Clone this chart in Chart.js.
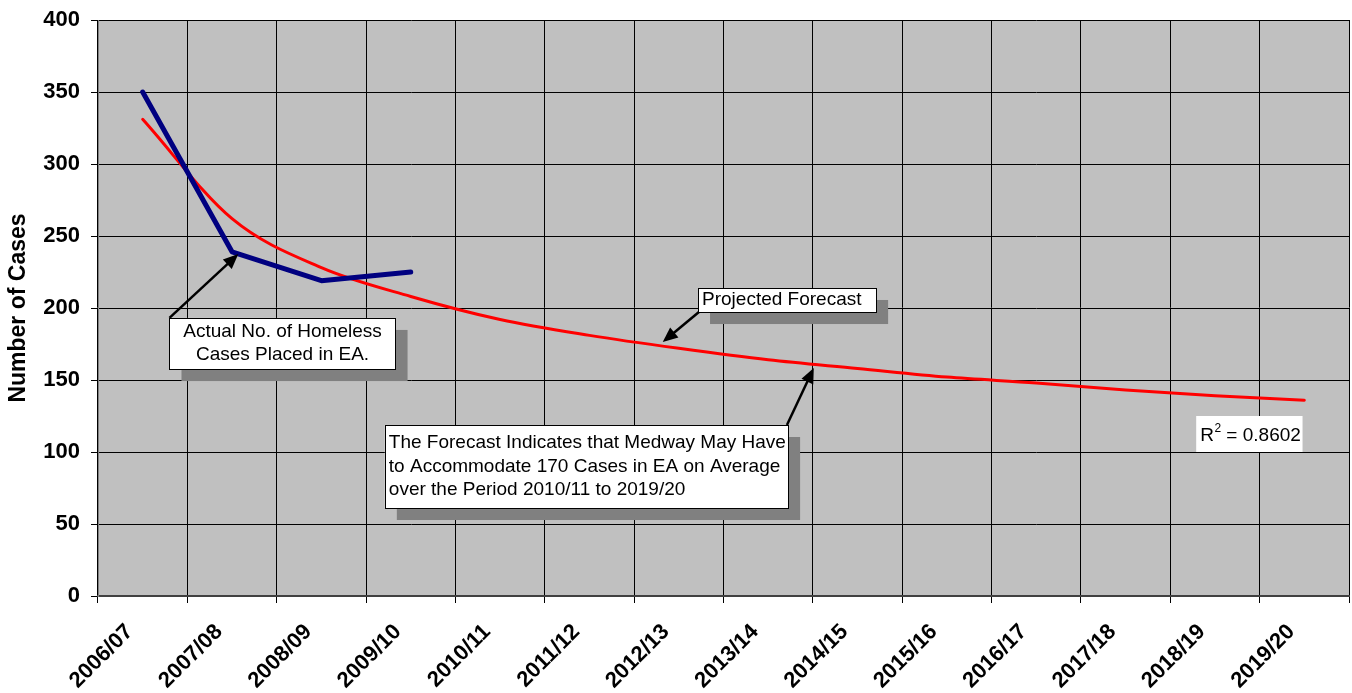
<!DOCTYPE html>
<html>
<head>
<meta charset="utf-8">
<title>Homeless Cases Placed in EA</title>
<script src="https://cdn.jsdelivr.net/npm/chart.js@4/dist/chart.umd.min.js"></script>
<style>
  html, body { margin: 0; padding: 0; background: #ffffff; }
  #wrap { width: 1352px; height: 693px; }
</style>
</head>
<body>
<div id="wrap"><canvas id="chart" width="1352" height="693"></canvas></div>
<script>
// Financial years on the category axis
const seasons = ['2006/07', '2007/08', '2008/09', '2009/10', '2010/11', '2011/12', '2012/13',
                 '2013/14', '2014/15', '2015/16', '2016/17', '2017/18', '2018/19', '2019/20'];

// Actual number of homeless cases placed in EA (recorded years only)
const actualCases = [350, 239, 219, 225, null, null, null, null, null, null, null, null, null, null];

// Fitted trend / projected forecast
const forecastTrend = [331, 262, 228, 208, 192, 181, 172, 164, 158, 152, 148, 143, 139, 136];

// Value axis
const yMin = 0;
const yMax = 400;
const yStep = 50;

const rSquared = '0.8602';

const FONT = '"Liberation Sans", Arial, Helvetica, sans-serif';

// Callouts, anchored in axis units (x = category index, y = cases)
const callouts = [
  {
    box: { x0: 0.30, x1: 2.83, y0: 193.1, y1: 157.6 },
    lines: ['Actual No. of Homeless', 'Cases Placed in EA.'],
    align: 'center',
    arrow: { from: { x: 0.30, y: 193.1 }, to: { x: 1.07, y: 237.5 } }
  },
  {
    box: { x0: 6.215, x1: 8.208, y0: 213.9, y1: 197.2 },
    lines: ['Projected Forecast'],
    align: 'left',
    arrow: { from: { x: 6.225, y: 197.2 }, to: { x: 5.82, y: 176.4 } }
  },
  {
    box: { x0: 2.71, x1: 7.223, y0: 118.75, y1: 61.1 },
    lines: ['The Forecast Indicates that Medway May Have',
            'to Accommodate 170 Cases in EA on Average',
            'over the Period 2010/11 to 2019/20'],
    align: 'left',
    arrow: { from: { x: 7.21, y: 118.75 }, to: { x: 7.51, y: 158.3 } }
  }
];

const rSquaredBox = { x0: 11.79, x1: 12.98, y0: 125, y1: 100 };

function drawArrow(ctx, x1, y1, x2, y2) {
  const ang = Math.atan2(y2 - y1, x2 - x1);
  const len = 15, half = 6.5;
  ctx.save();
  ctx.strokeStyle = '#000';
  ctx.fillStyle = '#000';
  ctx.lineWidth = 2.5;
  ctx.beginPath();
  ctx.moveTo(x1, y1);
  ctx.lineTo(x2 - Math.cos(ang) * (len - 2), y2 - Math.sin(ang) * (len - 2));
  ctx.stroke();
  ctx.beginPath();
  ctx.moveTo(x2, y2);
  ctx.lineTo(x2 - Math.cos(ang) * len - Math.sin(ang) * half, y2 - Math.sin(ang) * len + Math.cos(ang) * half);
  ctx.lineTo(x2 - Math.cos(ang) * len + Math.sin(ang) * half, y2 - Math.sin(ang) * len - Math.cos(ang) * half);
  ctx.closePath();
  ctx.fill();
  ctx.restore();
}

const plotFrame = {
  id: 'plotFrame',
  beforeDraw(chart) {
    const { ctx, chartArea: a } = chart;
    ctx.save();
    ctx.fillStyle = '#C0C0C0';
    ctx.fillRect(a.left, a.top, a.right - a.left, a.bottom - a.top);
    ctx.restore();
  },
  afterDatasetsDraw(chart) {
    const { ctx } = chart;
    const xs = chart.scales.x, ys = chart.scales.y;
    const px = v => xs.getPixelForValue(v);
    const py = v => ys.getPixelForValue(v);
    const shadow = 12;

    callouts.forEach(c => {
      const l = px(c.box.x0), r = px(c.box.x1), t = py(c.box.y0), b = py(c.box.y1);
      ctx.save();
      ctx.fillStyle = '#808080';
      ctx.fillRect(l + shadow, t + shadow, r - l, b - t);
      ctx.fillStyle = '#ffffff';
      ctx.fillRect(l, t, r - l, b - t);
      ctx.strokeStyle = '#000';
      ctx.lineWidth = 1;
      ctx.strokeRect(Math.round(l) + 0.5, Math.round(t) + 0.5, Math.round(r - l), Math.round(b - t));
      ctx.fillStyle = '#000';
      ctx.font = '19px ' + FONT;
      ctx.textBaseline = 'middle';
      const lh = 23.5;
      const n = c.lines.length;
      const cy = (t + b) / 2;
      c.lines.forEach((s, i) => {
        const y = cy + (i - (n - 1) / 2) * lh;
        if (c.align === 'center') {
          ctx.textAlign = 'center';
          ctx.fillText(s, (l + r) / 2, y);
        } else {
          ctx.textAlign = 'left';
          ctx.fillText(s, l + 4, y);
        }
      });
      ctx.restore();
      drawArrow(ctx, px(c.arrow.from.x), py(c.arrow.from.y), px(c.arrow.to.x), py(c.arrow.to.y));
    });

    // R squared label
    const l = px(rSquaredBox.x0), r = px(rSquaredBox.x1), t = py(rSquaredBox.y0), b = py(rSquaredBox.y1);
    ctx.save();
    ctx.fillStyle = '#ffffff';
    ctx.fillRect(l, t, r - l, b - t);
    ctx.fillStyle = '#000';
    ctx.textBaseline = 'alphabetic';
    ctx.textAlign = 'left';
    ctx.font = '19px ' + FONT;
    const base = t + (b - t) / 2 + 7;
    let x = l + 4;
    ctx.fillText('R', x, base);
    x += ctx.measureText('R').width;
    ctx.font = '12px ' + FONT;
    ctx.fillText('2', x + 0.5, base - 9);
    x += ctx.measureText('2').width + 0.5;
    ctx.font = '19px ' + FONT;
    ctx.fillText(' = ' + rSquared, x, base);
    ctx.restore();
  }
};

new Chart(document.getElementById('chart'), {
  type: 'line',
  data: {
    labels: seasons,
    datasets: [
      {
        label: 'Actual No. of Homeless Cases Placed in EA',
        data: actualCases,
        borderColor: '#000080',
        backgroundColor: '#000080',
        borderWidth: 5,
        pointRadius: 0,
        tension: 0,
        spanGaps: false,
        borderCapStyle: 'round',
        borderJoinStyle: 'round'
      },
      {
        label: 'Projected Forecast',
        data: forecastTrend,
        borderColor: '#FF0000',
        backgroundColor: '#FF0000',
        borderWidth: 3,
        pointRadius: 0,
        cubicInterpolationMode: 'monotone',
        borderCapStyle: 'round'
      }
    ]
  },
  options: {
    responsive: false,
    animation: false,
    devicePixelRatio: 1,
    layout: { padding: { top: 20, right: 3, bottom: 0, left: 0 } },
    plugins: {
      legend: { display: false },
      tooltip: { enabled: false }
    },
    scales: {
      x: {
        type: 'category',
        offset: true,
        grid: {
          offset: true,
          color: '#000',
          lineWidth: 1,
          drawTicks: true,
          tickLength: 7,
          tickColor: '#000'
        },
        border: { display: true, color: '#404040', width: 2 },
        ticks: {
          autoSkip: false,
          minRotation: 45,
          maxRotation: 45,
          padding: 16,
          labelOffset: -13,
          color: '#000',
          font: { family: FONT, size: 22, weight: 'bold' }
        },
        afterFit(scale) { scale.height = 97; }
      },
      y: {
        min: yMin,
        max: yMax,
        grid: {
          color: '#000',
          lineWidth: 1,
          drawTicks: true,
          tickLength: 7,
          tickColor: '#000'
        },
        border: { display: true, color: '#808080', width: 1 },
        ticks: {
          stepSize: yStep,
          padding: 11,
          color: '#000',
          font: { family: FONT, size: 22, weight: 'bold' }
        },
        title: {
          display: true,
          text: 'Number of Cases',
          color: '#000',
          padding: { top: 5, bottom: 0 },
          font: { family: FONT, size: 23, weight: 'bold' }
        },
        afterFit(scale) {
          scale.width = 98;
          scale.paddingTop = 12;
          scale.paddingBottom = 12;
        }
      }
    }
  },
  plugins: [plotFrame]
});
</script>
</body>
</html>
